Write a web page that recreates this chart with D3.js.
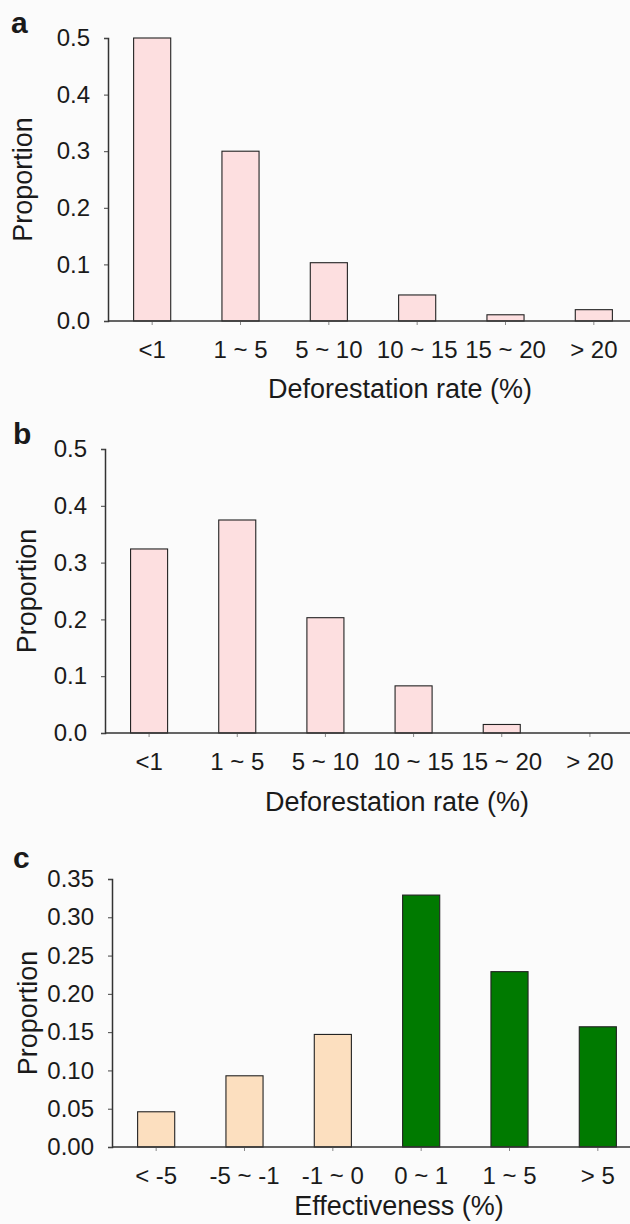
<!DOCTYPE html>
<html>
<head>
<meta charset="utf-8">
<script src="https://cdn.jsdelivr.net/npm/d3@7"></script>
<style>
  html, body { margin: 0; padding: 0; background: #fbfbfb; }
  svg { display: block; }
  text { font-family: "Liberation Sans", Arial, sans-serif; fill: #1a1a1a; }
</style>
</head>
<body>
<svg id="chart" width="630" height="1224"></svg>
<script>
// ---- data ----
const deforestCategories = ["<1", "1 ~ 5", "5 ~ 10", "10 ~ 15", "15 ~ 20", "> 20"];
const panelAValues = [0.5, 0.3, 0.103, 0.046, 0.011, 0.020];
const panelBValues = [0.324, 0.375, 0.203, 0.083, 0.015, 0];
const effectCategories = ["< -5", "-5 ~ -1", "-1 ~ 0", "0 ~ 1", "1 ~ 5", "> 5"];
const panelCValues = [0.046, 0.093, 0.147, 0.329, 0.229, 0.157];
const panelABTicks = [0.0, 0.1, 0.2, 0.3, 0.4, 0.5];
const panelCTicks = [0.00, 0.05, 0.10, 0.15, 0.20, 0.25, 0.30, 0.35];
const panelCColors = ["#fcdfbf", "#fcdfbf", "#fcdfbf", "#007a00", "#007a00", "#007a00"];

const svg = d3.select("#chart");

function drawPanel(o) {
  const g = svg.append("g");
  const x = d3.scaleBand().domain(o.categories).range([o.left, o.right])
    .paddingInner(0.58).paddingOuter(0.29);
  const y = d3.scaleLinear().domain([0, o.max]).range([o.bottom, o.top]);

  // bars
  g.selectAll("rect.bar").data(o.values).join("rect")
    .attr("class", "bar")
    .attr("x", (d, i) => x(o.categories[i]))
    .attr("y", d => y(d))
    .attr("width", x.bandwidth())
    .attr("height", d => o.bottom - y(d))
    .attr("fill", (d, i) => o.colors[i])
    .attr("stroke", d => d > 0 ? "#222" : "none")
    .attr("stroke-width", 1.1);

  // y axis
  const yAxis = d3.axisLeft(y).tickValues(o.ticks).tickFormat(d3.format(o.fmt))
    .tickSize(4).tickPadding(14);
  const ya = g.append("g").attr("transform", `translate(${o.left},0)`).call(yAxis);
  ya.select(".domain").attr("stroke", "#333").attr("stroke-width", 1.5);
  ya.selectAll(".tick line").attr("stroke", "#444");
  ya.selectAll(".tick text").style("font-size", "24px").attr("fill", "#1a1a1a")
    .attr("font-family", "Liberation Sans, Arial, sans-serif");

  // x axis
  const xAxis = d3.axisBottom(x).tickSize(4).tickPadding(16).tickSizeOuter(0);
  const xa = g.append("g").attr("transform", `translate(0,${o.bottom})`).call(xAxis);
  xa.select(".domain").remove();
  xa.append("line").attr("x1", o.left).attr("x2", 630).attr("y1", 0).attr("y2", 0)
    .attr("stroke", "#333").attr("stroke-width", 1.5);
  xa.selectAll(".tick line").attr("stroke", "#888");
  xa.selectAll(".tick text").style("font-size", "24px").attr("fill", "#1a1a1a")
    .attr("font-family", "Liberation Sans, Arial, sans-serif");

  // axis titles
  g.append("text").attr("x", o.titleX).attr("y", o.titleY)
    .attr("text-anchor", "middle").attr("dominant-baseline", "central")
    .style("font-size", "27px").text(o.xTitle);
  g.append("text")
    .attr("transform", `translate(${o.yTitleX},${(o.top + o.bottom) / 2}) rotate(-90)`)
    .attr("text-anchor", "middle").attr("dominant-baseline", "central")
    .style("font-size", "27px").text("Proportion");

  // panel letter
  g.append("text").attr("x", o.letterX).attr("y", o.letterY)
    .attr("dominant-baseline", "central")
    .style("font-size", "30px").style("font-weight", "bold").text(o.letter);
}

drawPanel({
  categories: deforestCategories, values: panelAValues, ticks: panelABTicks, max: 0.5, fmt: ".1f",
  colors: panelAValues.map(() => "#fddfe0"),
  left: 108, right: 638, top: 38, bottom: 321,
  xTitle: "Deforestation rate (%)", titleX: 400, titleY: 389, yTitleX: 23,
  letter: "a", letterX: 11, letterY: 22
});
drawPanel({
  categories: deforestCategories, values: panelBValues, ticks: panelABTicks, max: 0.5, fmt: ".1f",
  colors: panelBValues.map(() => "#fddfe0"),
  left: 105, right: 634, top: 449, bottom: 733,
  xTitle: "Deforestation rate (%)", titleX: 397, titleY: 802, yTitleX: 27,
  letter: "b", letterX: 13, letterY: 433
});
drawPanel({
  categories: effectCategories, values: panelCValues, ticks: panelCTicks, max: 0.35, fmt: ".2f",
  colors: panelCColors,
  left: 112, right: 642, top: 879, bottom: 1147,
  xTitle: "Effectiveness (%)", titleX: 399, titleY: 1206, yTitleX: 28,
  letter: "c", letterX: 13, letterY: 857
});
</script>
</body>
</html>
